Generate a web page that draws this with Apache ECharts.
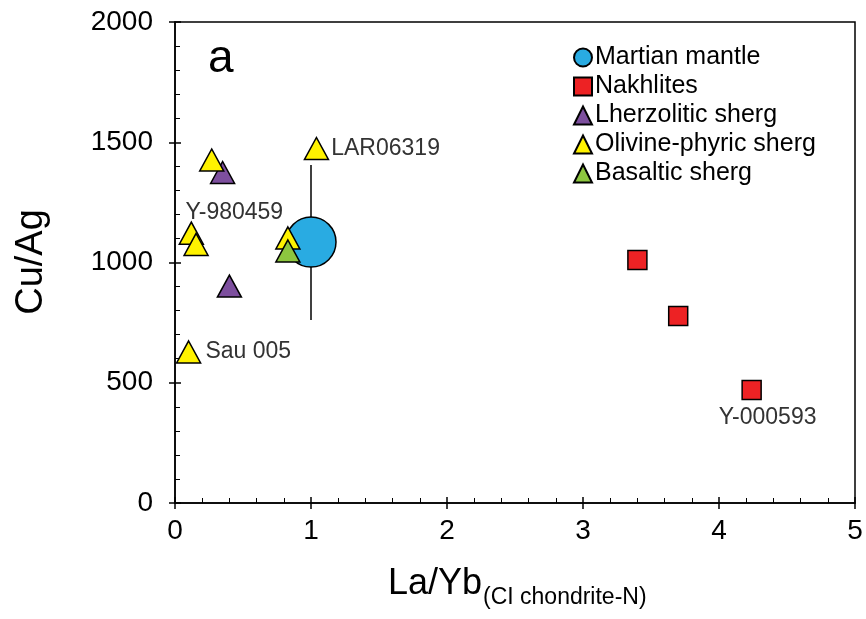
<!DOCTYPE html>
<html>
<head>
<meta charset="utf-8" />
<title>Cu/Ag vs La/Yb</title>
<script src="https://cdn.jsdelivr.net/npm/echarts@6/dist/echarts.min.js"></script>
<style>
  html, body { margin: 0; padding: 0; background: #fff; }
  #main { width: 866px; height: 619px; }
</style>
</head>
<body>
<div id="main"></div>
<script type="text/javascript">
// data: [La/Yb, Cu/Ag]
var mantle = [[1.0, 1085]];
var mantleErr = [[1.0, 1405], [1.0, 761]];
var nakhlites = [[3.40, 1010], [3.70, 778], [4.24, 470]];
var lherzolitic = [[0.35, 1374], [0.40, 902]];
var olivinePhyric = [[0.27, 1426], [0.12, 1122], [0.155, 1075], [0.83, 1102], [1.04, 1474], [0.10, 628]];
var basaltic = [[0.83, 1048]];
// sample names shown next to some points
var olivineNames = ['', 'Y-980459', '', '', 'LAR06319', 'Sau 005'];
var nakhliteNames = ['', '', 'Y-000593'];

var font = 'Liberation Sans, Arial, sans-serif';
var labelStyle = { color: '#333', fontSize: 23, fontFamily: font };

var chart = echarts.init(document.getElementById('main'));

function named(points, names, labels) {
  return points.map(function (p, i) {
    var d = { value: p };
    if (names[i] && labels[names[i]]) {
      d.label = Object.assign({ show: true, formatter: names[i] }, labelStyle, labels[names[i]]);
    }
    return d;
  });
}

var option = {
  animation: false,
  backgroundColor: '#fff',
  textStyle: { fontFamily: font },
  grid: { left: 175, top: 22, right: 11, bottom: 116, show: true, borderColor: '#000', borderWidth: 1.5 },
  xAxis: [{
    type: 'value', min: 0, max: 5, interval: 1,
    axisLine: { lineStyle: { color: '#000', width: 1.5 } },
    axisTick: { inside: true, length: 6, lineStyle: { color: '#000', width: 1.5 } },
    minorTick: { show: true, splitNumber: 5, length: 5, lineStyle: { color: '#000', width: 1 } },
    splitLine: { show: false },
    axisLabel: { color: '#000', fontSize: 28, fontFamily: font, margin: 14 }
  }, {
    type: 'value', min: 0, max: 5, interval: 1, position: 'bottom',
    axisLine: { show: false },
    axisTick: { inside: false, length: 6, lineStyle: { color: '#000', width: 1.5 } },
    splitLine: { show: false },
    axisLabel: { show: false }
  }],
  yAxis: [{
    type: 'value', min: 0, max: 2000, interval: 500,
    axisLine: { show: true, lineStyle: { color: '#000', width: 1.5 } },
    axisTick: { show: true, inside: true, length: 6, lineStyle: { color: '#000', width: 1.5 } },
    minorTick: { show: true, splitNumber: 5, length: 5, lineStyle: { color: '#000', width: 1 } },
    splitLine: { show: false },
    axisLabel: { color: '#000', fontSize: 28, fontFamily: font, margin: 22, formatter: function (v) { return String(v); } }
  }, {
    type: 'value', min: 0, max: 2000, interval: 500, position: 'left',
    axisLine: { show: false },
    axisTick: { show: true, inside: false, length: 6, lineStyle: { color: '#000', width: 1.5 } },
    splitLine: { show: false },
    axisLabel: { show: false }
  }],
  legend: {
    orient: 'vertical', left: 568, top: 40, itemGap: 4, itemWidth: 18, itemHeight: 18,
    textStyle: { color: '#000', fontSize: 25, fontFamily: font, padding: [0, 0, 0, -2] },
    data: [
      { name: 'Martian mantle', icon: 'circle' },
      { name: 'Nakhlites', icon: 'rect' },
      { name: 'Lherzolitic sherg', icon: 'triangle' },
      { name: 'Olivine-phyric sherg', icon: 'triangle' },
      { name: 'Basaltic sherg', icon: 'triangle' }
    ]
  },
  graphic: [
    { type: 'text', left: 208, top: 36, style: { text: 'a', fontSize: 46, fontFamily: font, fill: '#000' } },
    { type: 'text', x: 32, y: 262, rotation: Math.PI / 2,
      style: { text: 'Cu/Ag', fontSize: 38, fontFamily: font, fill: '#000', align: 'center', verticalAlign: 'middle' } },
    { type: 'text', x: 482, y: 584,
      style: { text: 'La/Yb', fontSize: 36, fontFamily: font, fill: '#000', align: 'right', verticalAlign: 'middle' } },
    { type: 'text', x: 483, y: 598,
      style: { text: '(CI chondrite-N)', fontSize: 23, fontFamily: font, fill: '#000', align: 'left', verticalAlign: 'middle' } }
  ],
  series: [
    {
      name: 'err', type: 'line', data: mantleErr, symbol: 'none', silent: true,
      lineStyle: { color: '#000', width: 1.5 }, z: 1
    },
    {
      name: 'Martian mantle', type: 'scatter', data: mantle, symbol: 'circle', symbolSize: 50,
      itemStyle: { color: '#29abe2', borderColor: '#000', borderWidth: 1.5, opacity: 1 }, z: 2
    },
    {
      name: 'Nakhlites', type: 'scatter', symbol: 'rect', symbolSize: 19,
      data: named(nakhlites, nakhliteNames, { 'Y-000593': { position: 'bottom', distance: 6, offset: [16, 0] } }),
      itemStyle: { color: '#ed2224', borderColor: '#000', borderWidth: 1.5, opacity: 1 }, z: 3
    },
    {
      name: 'Lherzolitic sherg', type: 'scatter', symbol: 'triangle', symbolSize: [24, 22],
      data: lherzolitic,
      itemStyle: { color: '#7d4f9e', borderColor: '#000', borderWidth: 1.5, opacity: 1 }, z: 3
    },
    {
      name: 'Olivine-phyric sherg', type: 'scatter', symbol: 'triangle', symbolSize: [24, 22],
      data: named(olivinePhyric, olivineNames, {
        'Y-980459': { position: 'inside', offset: [43, -21] },
        'LAR06319': { position: 'right', distance: 2 },
        'Sau 005': { position: 'right', distance: 4 }
      }),
      itemStyle: { color: '#fff200', borderColor: '#000', borderWidth: 1.5, opacity: 1 }, z: 4
    },
    {
      name: 'Basaltic sherg', type: 'scatter', symbol: 'triangle', symbolSize: [24, 22],
      data: basaltic,
      itemStyle: { color: '#8dc63f', borderColor: '#000', borderWidth: 1.5, opacity: 1 }, z: 5
    }
  ]
};

chart.setOption(option);
</script>
</body>
</html>
